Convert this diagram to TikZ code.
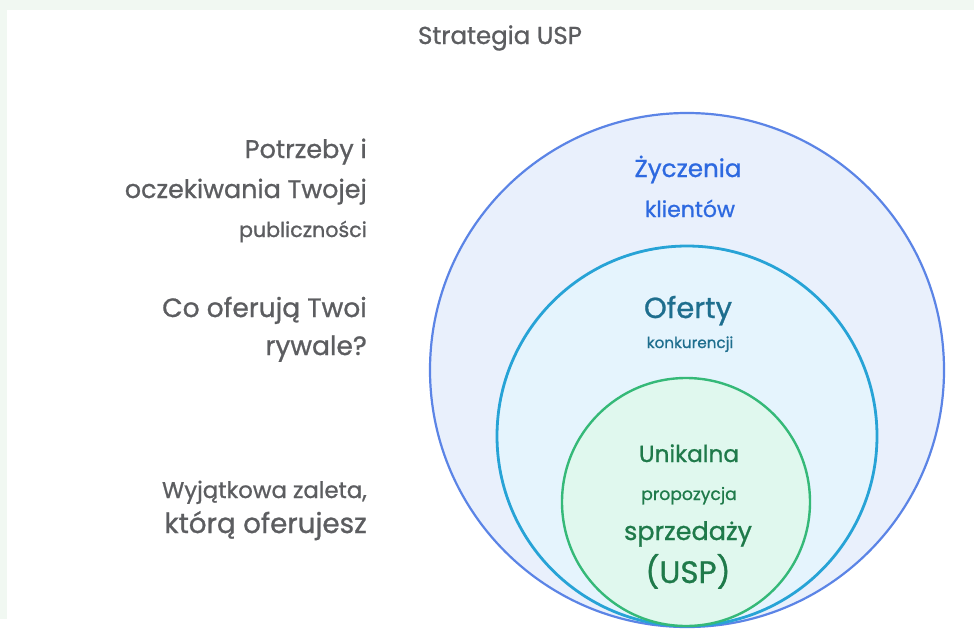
\documentclass[tikz,border=0pt]{standalone}
\usepackage{fontspec}
\setmainfont{Poppins}[FakeBold=0.9]
\definecolor{frame}{HTML}{F1F8F2}
\definecolor{labelgray}{HTML}{5C5D60}
\definecolor{wishline}{HTML}{5B84E6}
\definecolor{wishfill}{HTML}{E9F0FC}
\definecolor{wishtext}{HTML}{2D69E0}
\definecolor{offerline}{HTML}{27A3D6}
\definecolor{offerfill}{HTML}{E5F4FD}
\definecolor{offertext}{HTML}{1E6E8E}
\definecolor{uspline}{HTML}{35B978}
\definecolor{uspfill}{HTML}{E0F8EE}
\definecolor{usptext}{HTML}{1F7A4A}
\newcommand{\fs}[1]{\fontsize{#1}{#1}\selectfont}
\tikzset{
  side/.style={anchor=base east, inner sep=0pt, text=labelgray},
  inlabel/.style={anchor=base, inner sep=0pt},
}
\begin{document}
\begin{tikzpicture}[x=1pt,y=-1pt]
  \useasboundingbox (0,0) rectangle (974,635);
  \fill[white] (0,0) rectangle (974,635);
  % light frame along the top and the left edge
  \fill[frame] (0,0) rectangle (974,10);
  \fill[frame] (0,0) rectangle (7,619);

  % title
  \node[anchor=base, inner sep=0pt, text=labelgray] (title) at (500,44) {\fs{24.5}Strategia USP};

  % nested circles
  \draw[wishline, fill=wishfill, line width=2.2pt] (687,370) circle[radius=257];
  \draw[offerline, fill=offerfill, line width=2.8pt] (687,436) circle[radius=190];
  \draw[uspline, fill=uspfill, line width=2.4pt] (686,502) circle[radius=124];

  % questions on the left
  \node[side] (q1a) at (367,158) {\fs{25.5}Potrzeby i};
  \node[side] (q1b) at (367,198) {\fs{25.4}oczekiwania Twojej};
  \node[side] (q1c) at (367,237) {\fs{20.6}publiczności};
  \node[side] (q2a) at (367,317) {\fs{26.5}Co oferują Twoi};
  \node[side] (q2b) at (367,355) {\fs{26.5}rywale?};
  \node[side] (q3a) at (367,498) {\fs{22.8}Wyjątkowa zaleta,};
  \node[side] (q3b) at (367,533) {\fs{27.8}którą oferujesz};

  % labels inside the circles
  \node[inlabel, text=wishtext] (w1) at (688,177) {\fs{24.6}Życzenia};
  \node[inlabel, text=wishtext] (w2) at (690,217) {\fs{22}klientów};
  \node[inlabel, text=offertext] (o1) at (688,318) {\fs{29}Oferty};
  \node[inlabel, text=offertext] (o2) at (690,348) {\fs{15.2}konkurencji};
  \node[inlabel, text=usptext] (u1) at (689,462) {\fs{23.2}Unikalna};
  \node[inlabel, text=usptext] (u2) at (689,500) {\fs{17.2}propozycja};
  \node[inlabel, text=usptext] (u3) at (688,540) {\fs{25.5}sprzedaży};
  \node[inlabel, text=usptext] (u4) at (688,583) {\fs{31}(USP)};
\end{tikzpicture}
\end{document}
